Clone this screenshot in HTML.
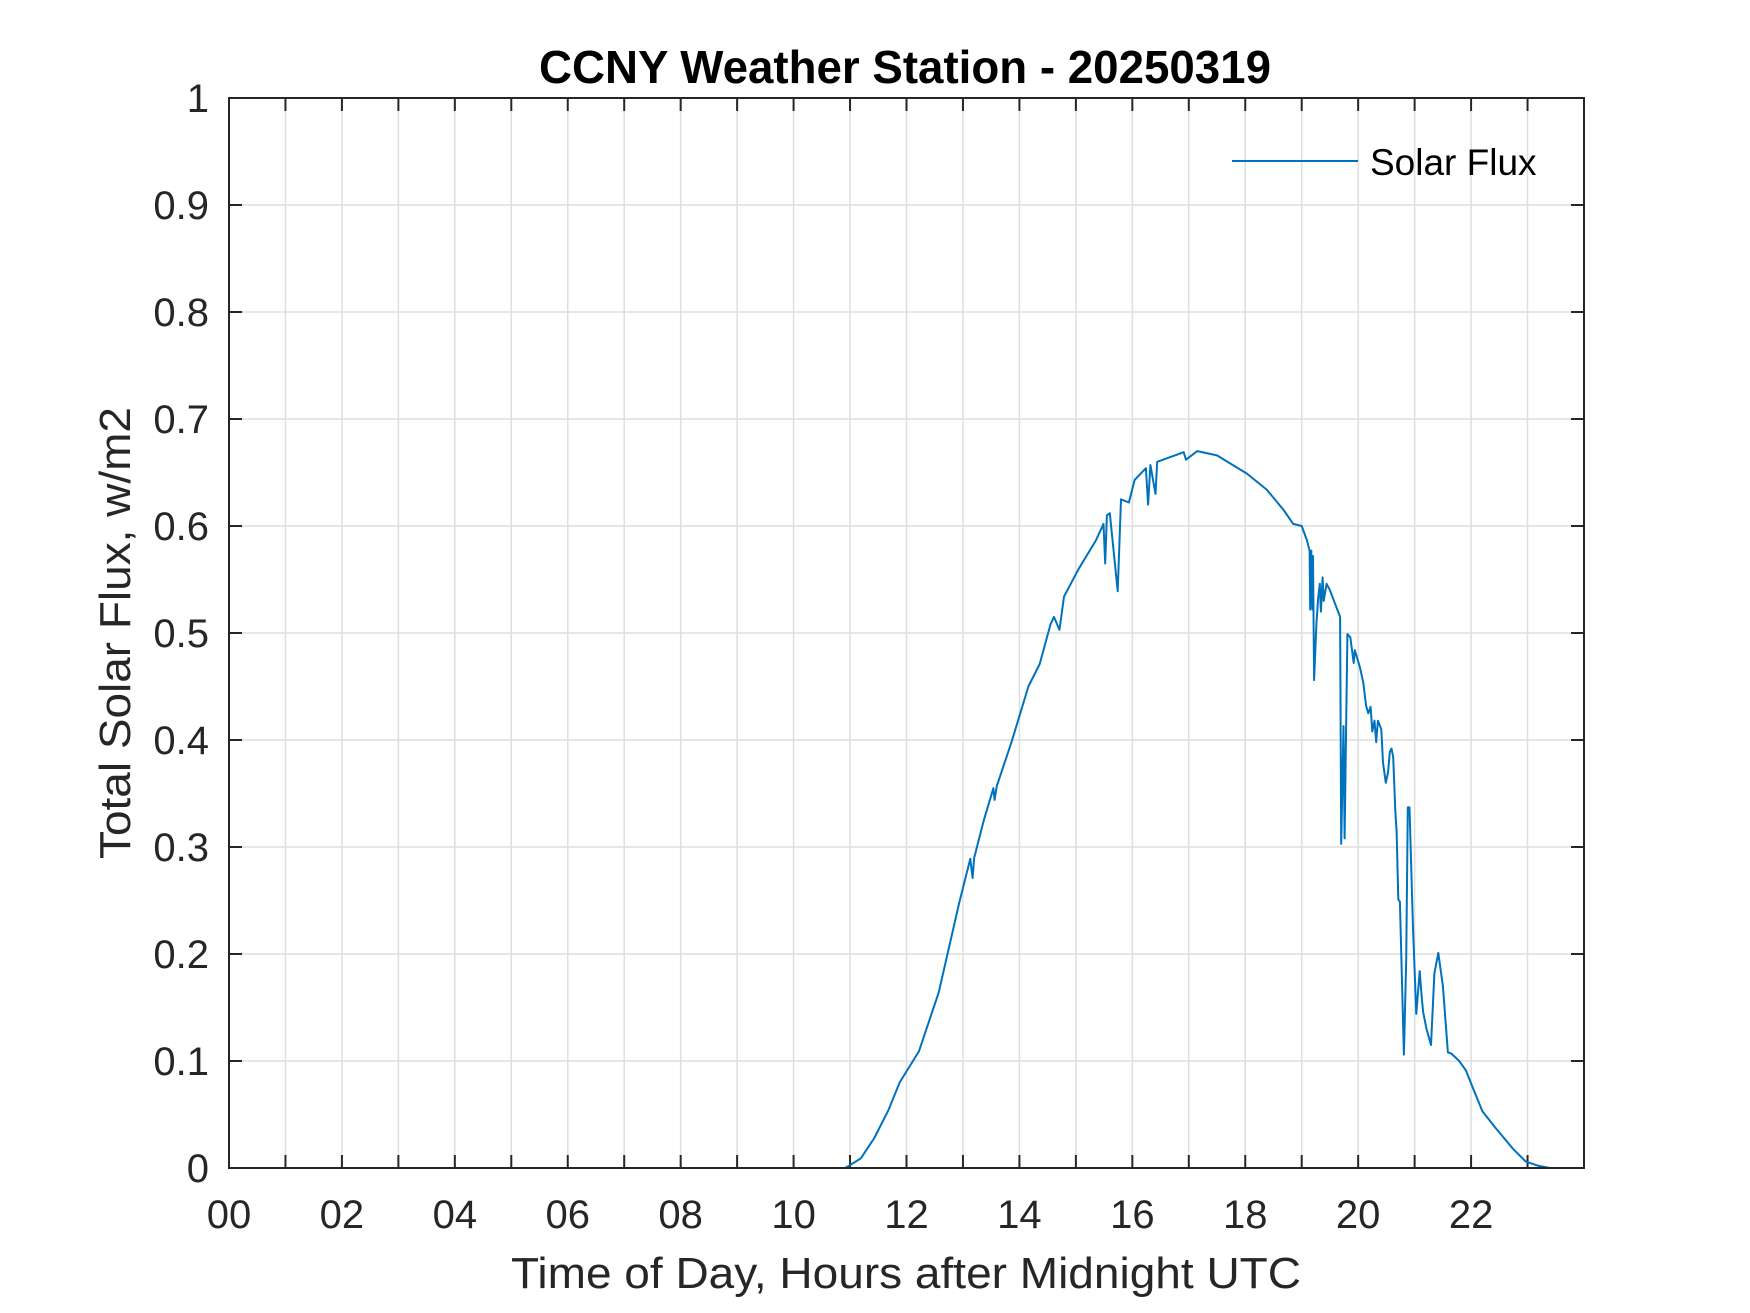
<!DOCTYPE html>
<html><head><meta charset="utf-8"><style>
html,body{margin:0;padding:0;background:#fff;}
svg{display:block;font-family:"Liberation Sans",Arial,sans-serif;}
</style></head><body>
<svg id="chart" width="1750" height="1313" viewBox="0 0 1750 1313" xmlns="http://www.w3.org/2000/svg">
<rect x="0" y="0" width="1750" height="1313" fill="#fff"/>
<g id="grid"></g>
<g id="ticks"></g>
<path id="series" fill="none" stroke="#0072BD" stroke-width="2" stroke-linejoin="round"/>
<rect x="229" y="98" width="1355" height="1070" fill="none" stroke="#262626" stroke-width="2"/>
<text x="905" y="83" text-anchor="middle" font-size="46" font-weight="bold" fill="#000" textLength="732" lengthAdjust="spacingAndGlyphs">CCNY Weather Station - 20250319</text>
<text x="906" y="1288" text-anchor="middle" font-size="44" fill="#262626" textLength="790" lengthAdjust="spacingAndGlyphs">Time of Day, Hours after Midnight UTC</text>
<text transform="translate(130,633) rotate(-90)" text-anchor="middle" font-size="44" fill="#262626" textLength="452" lengthAdjust="spacingAndGlyphs">Total Solar Flux, w/m2</text>
<g>
<line x1="1232" y1="161" x2="1358" y2="161" stroke="#0072BD" stroke-width="2"/>
<text x="1370" y="175" font-size="37" fill="#000">Solar Flux</text>
</g>
</svg>
<script>
const hours = [0,10.9,10.95,11.19,11.43,11.68,11.88,12.22,12.57,12.93,13.13,13.17,13.2,13.37,13.54,13.56,13.6,13.86,14.16,14.36,14.55,14.61,14.71,14.79,15.05,15.35,15.49,15.52,15.55,15.6,15.74,15.8,15.94,16.04,16.24,16.28,16.32,16.41,16.44,16.91,16.95,17.15,17.5,18.03,18.38,18.68,18.85,19.0,19.09,19.14,19.15,19.17,19.19,19.2,19.22,19.26,19.29,19.32,19.34,19.37,19.39,19.44,19.5,19.68,19.7,19.74,19.76,19.81,19.86,19.92,19.94,20.03,20.09,20.14,20.18,20.22,20.25,20.29,20.32,20.35,20.41,20.44,20.49,20.53,20.56,20.59,20.62,20.66,20.68,20.71,20.74,20.81,20.85,20.88,20.91,20.97,21.03,21.09,21.12,21.15,21.21,21.29,21.35,21.42,21.5,21.59,21.65,21.79,21.91,22.03,22.2,22.44,22.74,22.97,23.2,23.4,24];
const flux = [0,0,0.001,0.009,0.028,0.054,0.08,0.109,0.164,0.247,0.289,0.271,0.29,0.325,0.355,0.344,0.357,0.398,0.45,0.471,0.508,0.515,0.503,0.534,0.56,0.586,0.602,0.565,0.61,0.612,0.539,0.625,0.622,0.643,0.654,0.62,0.657,0.63,0.66,0.669,0.662,0.67,0.666,0.649,0.634,0.615,0.602,0.6,0.587,0.577,0.522,0.577,0.522,0.572,0.456,0.508,0.532,0.546,0.52,0.552,0.53,0.546,0.54,0.515,0.303,0.413,0.308,0.499,0.496,0.472,0.484,0.468,0.454,0.432,0.425,0.431,0.408,0.418,0.398,0.418,0.41,0.379,0.36,0.37,0.389,0.392,0.384,0.332,0.315,0.251,0.249,0.106,0.194,0.337,0.337,0.227,0.144,0.184,0.163,0.146,0.13,0.115,0.182,0.201,0.17,0.108,0.107,0.1,0.091,0.075,0.053,0.037,0.018,0.006,0.002,0,0];
const yTicks = [0,0.1,0.2,0.3,0.4,0.5,0.6,0.7,0.8,0.9,1];
const yTickLabels = ["0","0.1","0.2","0.3","0.4","0.5","0.6","0.7","0.8","0.9","1"];
const xTicks = [0,1,2,3,4,5,6,7,8,9,10,11,12,13,14,15,16,17,18,19,20,21,22,23];
const xTickLabels = ["00","02","04","06","08","10","12","14","16","18","20","22"];

const L=229,R=1584,T=98,B=1168;
function xs(h){return L+(h/24)*(R-L);}
function ys(v){return B-v*(B-T);}
const NS="http://www.w3.org/2000/svg";
const grid=document.getElementById('grid'), ticks=document.getElementById('ticks');
function mk(tag,attrs,parent){const e=document.createElementNS(NS,tag);for(const k in attrs)e.setAttribute(k,attrs[k]);parent.appendChild(e);return e;}
xTicks.forEach((h,i)=>{
  const x=xs(h);
  if(h>0){const g=mk('line',{x1:x,y1:T,x2:x,y2:B,stroke:'#dedede','stroke-width':1.5},grid);
  
  }
  const t1=mk('line',{x1:x,y1:B,x2:x,y2:B-13,stroke:'#262626','stroke-width':2},ticks);
  
  
  const t2=mk('line',{x1:x,y1:T,x2:x,y2:T+13,stroke:'#262626','stroke-width':2},ticks);
  
  
  if(h%2===0){const lb=mk('text',{x:x,y:B+60,'text-anchor':'middle','font-size':40,fill:'#262626'},ticks);
  lb.textContent=xTickLabels[h/2];
  
  }
});
yTicks.forEach((v,i)=>{
  const y=ys(v);
  if(v>0&&v<1){const g=mk('line',{x1:L,y1:y,x2:R,y2:y,stroke:'#dedede','stroke-width':1.5},grid);
  
  }
  const t1=mk('line',{x1:L,y1:y,x2:L+13,y2:y,stroke:'#262626','stroke-width':2},ticks);
  
  
  const t2=mk('line',{x1:R,y1:y,x2:R-13,y2:y,stroke:'#262626','stroke-width':2},ticks);
  
  
  const lb=mk('text',{x:L-20,y:y+14,'text-anchor':'end','font-size':40,fill:'#262626'},ticks);
  lb.textContent=yTickLabels[i];
  
  
});
let d='';
hours.forEach((h,i)=>{d+=(i?'L':'M')+xs(h).toFixed(1)+','+ys(flux[i]).toFixed(1);});
document.getElementById('series').setAttribute('d',d);
</script>
</body></html>
